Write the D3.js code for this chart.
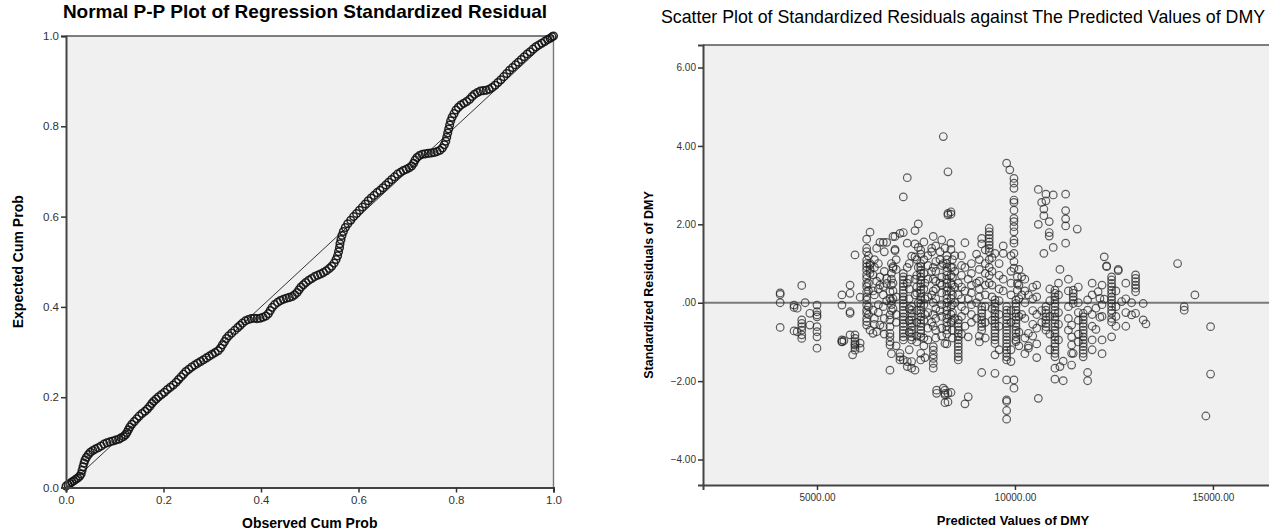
<!DOCTYPE html>
<html>
<head>
<meta charset="utf-8">
<script src="https://cdn.jsdelivr.net/npm/d3@7"></script>
<style>
  body { margin: 0; background: #fff; }
  svg { display: block; font-family: 'Liberation Sans', Arial, sans-serif; }
</style>
</head>
<body>
<svg id="chart" width="1269" height="530"></svg>
<script>
// ---- P-P plot data ----
var observedCumProb = [
  0.000, 0.004, 0.008, 0.012, 0.016, 0.020, 0.024, 0.028, 0.031, 0.033,
  0.035, 0.037, 0.039, 0.042, 0.046, 0.050, 0.055, 0.060, 0.066, 0.072,
  0.078, 0.084, 0.090, 0.096, 0.102, 0.108, 0.113, 0.118, 0.122, 0.125,
  0.128, 0.131, 0.135, 0.140, 0.145, 0.150, 0.156, 0.162, 0.167, 0.172,
  0.176, 0.180, 0.185, 0.190, 0.196, 0.202, 0.208, 0.214, 0.220, 0.226,
  0.231, 0.236, 0.241, 0.246, 0.252, 0.258, 0.264, 0.270, 0.276, 0.282,
  0.288, 0.294, 0.300, 0.306, 0.312, 0.317, 0.321, 0.325, 0.329, 0.334,
  0.340, 0.346, 0.352, 0.357, 0.362, 0.368, 0.374, 0.380, 0.386, 0.392,
  0.398, 0.404, 0.410, 0.415, 0.419, 0.423, 0.428, 0.434, 0.440, 0.446,
  0.452, 0.458, 0.464, 0.469, 0.474, 0.478, 0.482, 0.487, 0.492, 0.498,
  0.504, 0.510, 0.516, 0.522, 0.528, 0.534, 0.540, 0.545, 0.550, 0.554,
  0.557, 0.559, 0.561, 0.562, 0.564, 0.566, 0.569, 0.573, 0.578, 0.584,
  0.590, 0.596, 0.602, 0.608, 0.614, 0.620, 0.626, 0.632, 0.638, 0.644,
  0.650, 0.656, 0.662, 0.668, 0.674, 0.680, 0.686, 0.692, 0.698, 0.704,
  0.709, 0.713, 0.716, 0.720, 0.725, 0.731, 0.737, 0.743, 0.749, 0.755,
  0.761, 0.767, 0.772, 0.776, 0.779, 0.781, 0.783, 0.785, 0.787, 0.789,
  0.792, 0.796, 0.800, 0.805, 0.810, 0.816, 0.822, 0.828, 0.833, 0.838,
  0.844, 0.850, 0.856, 0.862, 0.868, 0.874, 0.880, 0.886, 0.892, 0.898,
  0.904, 0.910, 0.916, 0.922, 0.928, 0.934, 0.940, 0.946, 0.952, 0.958,
  0.964, 0.970, 0.976, 0.982, 0.988, 0.993, 0.997, 1.000
];
var expectedCumProb = [
  0.003, 0.006, 0.009, 0.012, 0.015, 0.018, 0.021, 0.025, 0.030, 0.038,
  0.046, 0.054, 0.061, 0.067, 0.073, 0.078, 0.082, 0.085, 0.088, 0.092,
  0.096, 0.099, 0.101, 0.103, 0.105, 0.107, 0.110, 0.113, 0.117, 0.122,
  0.128, 0.134, 0.140, 0.146, 0.152, 0.158, 0.164, 0.169, 0.174, 0.180,
  0.186, 0.191, 0.196, 0.201, 0.206, 0.211, 0.217, 0.222, 0.227, 0.233,
  0.239, 0.245, 0.251, 0.257, 0.262, 0.267, 0.271, 0.275, 0.279, 0.283,
  0.287, 0.291, 0.295, 0.299, 0.303, 0.309, 0.316, 0.323, 0.330, 0.336,
  0.342, 0.348, 0.354, 0.359, 0.364, 0.369, 0.372, 0.374, 0.375, 0.374,
  0.375, 0.377, 0.380, 0.385, 0.392, 0.399, 0.405, 0.410, 0.414, 0.417,
  0.419, 0.421, 0.423, 0.427, 0.432, 0.438, 0.444, 0.449, 0.454, 0.459,
  0.463, 0.467, 0.470, 0.473, 0.476, 0.480, 0.485, 0.490, 0.497, 0.505,
  0.513, 0.522, 0.531, 0.540, 0.549, 0.558, 0.567, 0.576, 0.584, 0.592,
  0.600, 0.607, 0.614, 0.621, 0.628, 0.635, 0.641, 0.647, 0.653, 0.658,
  0.664, 0.670, 0.676, 0.682, 0.688, 0.694, 0.698, 0.702, 0.705, 0.708,
  0.712, 0.718, 0.725, 0.731, 0.735, 0.738, 0.739, 0.740, 0.741, 0.742,
  0.744, 0.747, 0.752, 0.759, 0.767, 0.776, 0.785, 0.794, 0.803, 0.812,
  0.820, 0.828, 0.836, 0.842, 0.847, 0.851, 0.855, 0.860, 0.866, 0.871,
  0.875, 0.878, 0.879, 0.880, 0.882, 0.886, 0.891, 0.897, 0.903, 0.910,
  0.917, 0.924, 0.930, 0.936, 0.942, 0.948, 0.954, 0.960, 0.965, 0.971,
  0.976, 0.980, 0.984, 0.988, 0.992, 0.995, 0.998, 1.000
];
var cumProbTicks = [0, 0.2, 0.4, 0.6, 0.8, 1.0];

// ---- scatter data: [predicted value of DMY, standardized residuals at that value] ----
var scatterColumns = [
  [4070, [0.25, 0.21, 0.0, -0.63]],
  [4420, [-0.06, -0.12, -0.72]],
  [4500, [-0.14, -0.74]],
  [4615, [0.44, -0.44, -0.53, -0.61, -0.70, -0.82, -0.91]],
  [4700, [0.0]],
  [4820, [-0.27, -0.57]],
  [5000, [-0.06, -0.23, -0.31, -0.36, -0.61, -0.74, -0.87, -1.16]],
  [5630, [0.20, -0.06, -0.95, -0.99, -1.0]],
  [5680, [-0.97]],
  [5835, [0.45, 0.24, -0.23, -0.27, -0.82]],
  [5900, [-1.33]],
  [5960, [1.22, -0.82, -0.91, -0.99, -1.05, -1.08, -1.14, -1.21]],
  [6090, [-1.03, -1.16, 0.14]],
  [6255, [1.62, 1.39, 1.30, 1.09, 1.0, 0.92, 0.83, 0.71, 0.62, 0.49, 0.41, 0.28, 0.15, 0.07, -0.06, -0.19, -0.27, -0.40, -0.48, -0.57]],
  [6300, [1.2, 0.5, 0.3, -0.1, -0.3]],
  [6340, [1.80, 1.0, 0.96, -0.70, 0.85, 0.75]],
  [6415, [0.71, -0.19, -0.78, 0.3]],
  [6450, [1.1, 0.9, 0.2, -0.4, -0.55]],
  [6507, [1.39, -0.74, 0.55]],
  [6550, [1.0, 0.35, -0.05, -0.25]],
  [6590, [0.66, 0.45, -0.57, 1.54]],
  [6675, [0.41, -0.61, 1.54, 0.2, -0.1]],
  [6700, [1.3, 0.8, -0.4, -0.8]],
  [6760, [0.62, 0.49, 1.54, 0.05]],
  [6843, [0.28, 0.11, -0.31, -0.44, -0.61, -0.78, -0.87, -0.99, -1.08, -1.72]],
  [6880, [1.0, 0.75, 0.6, 0.45, 0.05, -0.05, -0.2, -1.3]],
  [6920, [0.92, 0.88, 1.69, 0.5, 0.3, 0.1, -0.15]],
  [6970, [1.69, 1.36, 1.33]],
  [7000, [1.1, 0.85, 0.15, -0.3, -0.5, -1.1]],
  [7096, [1.77, -1.29, -1.38, -1.46]],
  [7180, [1.79, 2.70, 0.75, 0.66, 0.58, 0.49, 0.41, 0.32, 0.24, 0.15, 0.07, -0.02, -0.10, -0.19, -0.27, -0.36, -0.44, -0.53, -0.61, -0.70, -0.78, -0.87, -0.95, -1.46]],
  [7280, [3.19, 1.52, -1.63, -1.5, 0.9, 0.5]],
  [7330, [1.0, 0.6, 0.35, 0.1, -0.15, -0.45, -0.75, -1.2]],
  [7390, [1.19, -0.1, -0.19, -0.27, -0.36, -0.44, -0.53, -0.61, -0.70, -0.78, -0.87, -0.95, -1.67, -1.5]],
  [7475, [1.84, 1.50, 1.17, -1.72, 0.6, 0.2]],
  [7520, [1.1, 0.7, 0.4, 0.25, -0.2, -0.5, -0.85, -1.0]],
  [7558, [2.01, 1.41, 0.9, 0.0]],
  [7620, [1.34, 1.24, -1.46, -1.29, 1.0, 0.92, 0.83, 0.75, 0.66, 0.58, 0.49, 0.41, 0.32, 0.24, 0.15, 0.07, -0.02, -0.10, -0.19, -0.27, -0.36, -0.44, -0.53, -0.61, -0.70, -0.78, -0.87]],
  [7700, [1.55, 1.1, 0.75, 0.35, -0.05, -0.45, -0.9, -1.1]],
  [7727, [0.5, 0.1, -0.3, -1.4]],
  [7800, [1.2, 0.95, 0.6, 0.15, -0.25, -0.65, -0.95]],
  [7896, [1.39, 1.30, 0.8, 0.2, -0.5]],
  [7937, [1.69, -1.12, -1.21, -1.33, -1.42, -1.55, -1.67, 0.9, 0.6, 0.3, 0.0, -0.3, -0.6]],
  [8000, [1.45, 1.05, 0.8, 0.55, 0.35, 0.1, -0.15, -0.4, -0.7, -0.9]],
  [8022, [-2.23, -2.31]],
  [8106, [1.30, 1.1, 0.5, -0.2]],
  [8150, [1.6, 0.95, 0.65, 0.45, 0.25, -0.05, -0.35, -0.65, -0.85]],
  [8190, [4.24, 1.0, -2.18]],
  [8232, [1.39, -1.04, -2.23, -2.31, -2.35, -2.55]],
  [8280, [1.2, 1.1, 1.0, 0.9, 0.8, 0.7, 0.6, 0.5, 0.4, 0.3, 0.2, 0.1, 0.0, -0.1, -0.2, -0.3, -0.4, -0.5, -0.6, -0.7, -0.8, -1.05]],
  [8308, [3.34, 2.28, 2.24, -2.31, -2.53]],
  [8384, [2.32, 2.26, 1.52, 1.36, 0.9, 0.7, 0.5, 0.3, 0.1, -0.1, -0.3, -0.5, -2.29]],
  [8420, [1.1, 0.9, 0.65, 0.45, 0.2, -0.05, -0.25, -0.45, -0.7, -0.9]],
  [8480, [1.2, 0.8, 0.4, 0.0, -0.4]],
  [8568, [-0.44, -0.53, -0.61, -0.70, -0.78, -0.87, -0.95, -1.04, -1.12, -1.21, -1.29, -1.38, -1.46, 0.5, 0.2]],
  [8650, [1.2, 0.95, 0.7, 0.4, 0.1, -0.1, -0.35, -0.8]],
  [8737, [1.53, 0.9, 0.3, -0.2, -0.6, -2.58]],
  [8820, [-0.87, -2.40, 0.6, 0.1]],
  [8900, [1.0, 0.75, 0.45, 0.25, -0.05, -0.3, -0.5]],
  [9030, [1.24, 0.5, 0.0, -0.4]],
  [9100, [1.1, 0.85, 0.55, 0.35, 0.15, -0.85, -1.0]],
  [9160, [1.64, 1.5, -1.78, -0.10, -0.19, -0.27, -0.36, -0.44, -0.53, -0.61, -0.70]],
  [9250, [1.35, 1.0, 0.75, 0.45, 0.2, -0.1, -0.5, -0.9]],
  [9350, [1.90, 1.81, 1.73, 1.64, 1.55, 1.47, 1.39, 1.30, 1.1, 0.9, 0.7, 0.5]],
  [9420, [1.15, 0.8, 0.45, 0.15, -0.15, -0.45]],
  [9495, [1.26, 0.07, -0.02, -0.10, -0.19, -0.27, -0.36, -0.44, -0.53, -0.61, -0.70, -0.78, -0.87, -0.95, -1.04, -1.33, -1.80]],
  [9600, [1.0, 0.7, 0.35, 0.05, -0.3, -0.6, -1.2]],
  [9704, [1.45, 1.26, 0.6, 0.3]],
  [9790, [3.56, -0.10, -0.19, -0.27, -0.36, -0.44, -0.53, -0.61, -0.70, -0.78, -0.87, -0.95, -1.04, -1.12, -1.21, -1.29, -1.38, -1.46, -1.97, -2.48, -2.52, -2.75, -2.97]],
  [9870, [3.39]],
  [9900, [1.2, 0.8, 0.5, 0.2, -0.2, -0.5, -1.2, -1.5]],
  [9975, [3.17, 3.05, 2.92, 2.62, 2.56, 2.36, 2.15, 2.07, 1.94, 1.81, 1.60, 1.52, 1.26, 1.05, 0.88, -1.97, -2.18]],
  [10025, [0.07, -0.02, -0.10, -0.19, -0.27, -0.36, -0.44, -0.53, -0.61, -0.70, -0.78, -0.87, -0.95, -0.99]],
  [10060, [0.49, 0.32, 0.66]],
  [10100, [0.85, 0.45, 0.1, -0.35, -0.75, -1.1]],
  [10170, [0.66, 0.2, -0.3]],
  [10250, [0.6, 0.3, 0.0, -0.4, -0.9, -1.3]],
  [10340, [-0.78, -1.10, -1.16, 0.2]],
  [10450, [0.4, 0.1, -0.2, -0.55, -0.85]],
  [10550, [0.45, 0.15, -0.3, -0.65, -1.05, -1.4]],
  [10590, [2.89, 2.00, -2.44]],
  [10675, [2.56, -0.2, -0.5]],
  [10730, [2.39, 2.22, 1.26]],
  [10782, [2.77, 2.60, -0.10, -0.19, -0.27, -0.36, -0.44, -0.53, -0.61, -0.70]],
  [10866, [2.07, 1.79, 1.70]],
  [10880, [0.35, 0.05, -0.35, -0.8, -1.2]],
  [10967, [2.75, 1.41]],
  [11010, [0.32, 0.24, 0.15, 0.07, -0.02, -0.10, -0.19, -0.27, -0.36, -0.44, -0.53, -0.61, -0.70, -0.78, -0.87, -0.95, -1.04, -1.12, -1.21, -1.29, -1.38, -1.67, -1.95]],
  [11100, [0.5, 0.2, -0.25, -0.55, -0.95]],
  [11136, [0.85, -1.63]],
  [11219, [-1.49, -1.99]],
  [11280, [2.77, 2.35, 2.14, 1.96, 1.52]],
  [11350, [0.6, 0.3, -0.1, -0.4, -0.7]],
  [11431, [-0.57, -0.87, -1.08, -1.29, -1.59]],
  [11472, [0.32, 0.24, 0.15, 0.07, -0.02, -1.29]],
  [11573, [1.88]],
  [11600, [0.4, 0.0, -0.25, -0.45, -0.8, -1.0]],
  [11724, [-0.27, -0.36, -0.44, -0.53, -0.61, -0.70, -0.78, -0.87, -0.95, -1.04, -1.12, -1.21, -1.29, -1.38]],
  [11835, [0.07, -0.19, -1.78, -1.99]],
  [11950, [0.5, 0.2, -0.3, -0.6, -0.95, -1.2]],
  [12045, [-0.14, -0.68]],
  [12100, [0.28]],
  [12146, [0.11, -0.37]],
  [12200, [0.45, -0.05, -0.35, -0.95, -1.3]],
  [12255, [1.17, 0.09]],
  [12315, [0.94, 0.92]],
  [12441, [0.66, 0.58, 0.49, 0.41, 0.32, 0.24, 0.15, 0.07, -0.02, -0.10, -0.19, -0.27, -0.40, -0.49, -0.87]],
  [12550, [0.3, -0.1, -0.35, -0.6]],
  [12608, [0.85, 0.82]],
  [12694, [0.03]],
  [12800, [0.5, 0.1, -0.25, -0.6]],
  [12946, [0.0, -0.31]],
  [13047, [0.71, 0.62, 0.54, 0.45, 0.37, 0.28, -0.27]],
  [13239, [-0.02, -0.44]],
  [13307, [-0.54]],
  [14108, [1.0]],
  [14275, [-0.10, -0.19]],
  [14545, [0.2]],
  [14822, [-2.89]],
  [14941, [-0.61, -1.82]]
];
var residualTicks = [-4, -2, 0, 2, 4, 6];
var predictedTicks = [5000, 10000, 15000];

var svg = d3.select('#chart');

// shared frame: grey plot area, dark left/bottom axes, lighter top/right edges
var drawFrame = function (g, w, h) {
  g.append('rect')
    .attr('width', w)
    .attr('height', h)
    .style('fill', '#f0f0f0');
  g.append('line').attr('x1', 0).attr('x2', w).attr('y1', 0).attr('y2', 0)
    .style('stroke', '#555').style('stroke-width', 1.6);
  g.append('line').attr('x1', w).attr('x2', w).attr('y1', 0).attr('y2', h)
    .style('stroke', '#777').style('stroke-width', 1.4);
};

var styleAxis = function (axisG, size) {
  axisG.select('.domain')
    .style('stroke', '#444')
    .style('stroke-width', 2);
  axisG.selectAll('.tick line')
    .style('stroke', '#333')
    .style('stroke-width', 1.5);
  axisG.selectAll('.tick text')
    .style('fill', '#333')
    .style('font-size', size + 'px')
    .style('font-family', "'Liberation Sans', Arial, sans-serif");
};

// ---------- left: normal P-P plot ----------
(function () {
  var left = 66, top = 36, width = 487.5, height = 451.5;

  var x = d3.scaleLinear().domain([0, 1]).range([0, width]);
  var y = d3.scaleLinear().domain([0, 1]).range([height, 0]);

  var g = svg.append('g')
    .attr('transform', 'translate(' + left + ',' + top + ')');

  drawFrame(g, width, height);

  g.append('line')
    .attr('x1', x(0)).attr('y1', y(0))
    .attr('x2', x(1)).attr('y2', y(1))
    .style('stroke', '#333')
    .style('stroke-width', 1);

  g.append('g').selectAll('circle')
      .data(observedCumProb)
    .enter().append('circle')
      .attr('cx', function (d) { return x(d); })
      .attr('cy', function (d, i) { return y(expectedCumProb[i]); })
      .attr('r', 3.8)
      .style('fill', 'none')
      .style('stroke', '#111')
      .style('stroke-opacity', 0.9)
      .style('stroke-width', 1.5);

  var xAxis = g.append('g')
    .attr('transform', 'translate(0,' + height + ')')
    .call(d3.axisBottom(x).tickValues(cumProbTicks).tickFormat(d3.format('.1f')).tickSizeOuter(0).tickSize(5).tickPadding(3));
  styleAxis(xAxis, 11.5);

  var yAxis = g.append('g')
    .call(d3.axisLeft(y).tickValues(cumProbTicks).tickFormat(d3.format('.1f')).tickSizeOuter(0).tickSize(5).tickPadding(2));
  styleAxis(yAxis, 11.5);

  svg.append('text')
    .attr('x', 305)
    .attr('y', 18)
    .style('text-anchor', 'middle')
    .style('font-weight', 'bold')
    .style('font-size', '19px')
    .text('Normal P-P Plot of Regression Standardized Residual');

  svg.append('text')
    .attr('transform', 'translate(23,' + (top + height / 2) + ') rotate(-90)')
    .style('text-anchor', 'middle')
    .style('font-weight', 'bold')
    .style('font-size', '14px')
    .text('Expected Cum Prob');

  svg.append('text')
    .attr('x', left + width / 2)
    .attr('y', 528)
    .style('text-anchor', 'middle')
    .style('font-weight', 'bold')
    .style('font-size', '14px')
    .text('Observed Cum Prob');
})();

// ---------- right: residuals against predicted values ----------
(function () {
  var left = 703, top = 45, width = 580, height = 440;

  var x = d3.scaleLinear().domain([2121, 16770]).range([0, width]);
  var y = d3.scaleLinear().domain([-4.65, 6.575]).range([height, 0]);

  var points = [];
  scatterColumns.forEach(function (col) {
    col[1].forEach(function (r) { points.push({ predicted: col[0], residual: r }); });
  });

  var g = svg.append('g')
    .attr('transform', 'translate(' + left + ',' + top + ')');

  drawFrame(g, width, height);

  g.append('line')
    .attr('x1', 0).attr('x2', width)
    .attr('y1', y(0)).attr('y2', y(0))
    .style('stroke', '#7a7a7a')
    .style('stroke-width', 2);

  g.append('g').selectAll('circle')
      .data(points)
    .enter().append('circle')
      .attr('cx', function (d) { return x(d.predicted); })
      .attr('cy', function (d) { return y(d.residual); })
      .attr('r', 3.8)
      .style('fill', 'none')
      .style('stroke', '#222')
      .style('stroke-opacity', 0.72)
      .style('stroke-width', 1.2);

  var xAxis = g.append('g')
    .attr('transform', 'translate(0,' + height + ')')
    .call(d3.axisBottom(x).tickValues(predictedTicks).tickFormat(d3.format('.2f')).tickSizeOuter(0).tickSize(5).tickPadding(4));
  styleAxis(xAxis, 10);

  var yAxis = g.append('g')
    .call(d3.axisLeft(y).tickValues(residualTicks)
      .tickFormat(function (d) { return d === 0 ? '.00' : d3.format('.2f')(d); })
      .tickSizeOuter(0).tickSize(5).tickPadding(2));
  styleAxis(yAxis, 10);

  svg.append('text')
    .attr('x', 963)
    .attr('y', 23)
    .style('text-anchor', 'middle')
    .style('font-size', '17.8px')
    .text('Scatter Plot of Standardized Residuals against The Predicted Values of DMY');

  svg.append('text')
    .attr('transform', 'translate(653,' + (top + 240) + ') rotate(-90)')
    .style('text-anchor', 'middle')
    .style('font-weight', 'bold')
    .style('font-size', '12.5px')
    .text('Standardized Residuals of DMY');

  svg.append('text')
    .attr('x', 1013)
    .attr('y', 525)
    .style('text-anchor', 'middle')
    .style('font-weight', 'bold')
    .style('font-size', '13px')
    .text('Predicted Values of DMY');
})();
</script>
</body>
</html>
